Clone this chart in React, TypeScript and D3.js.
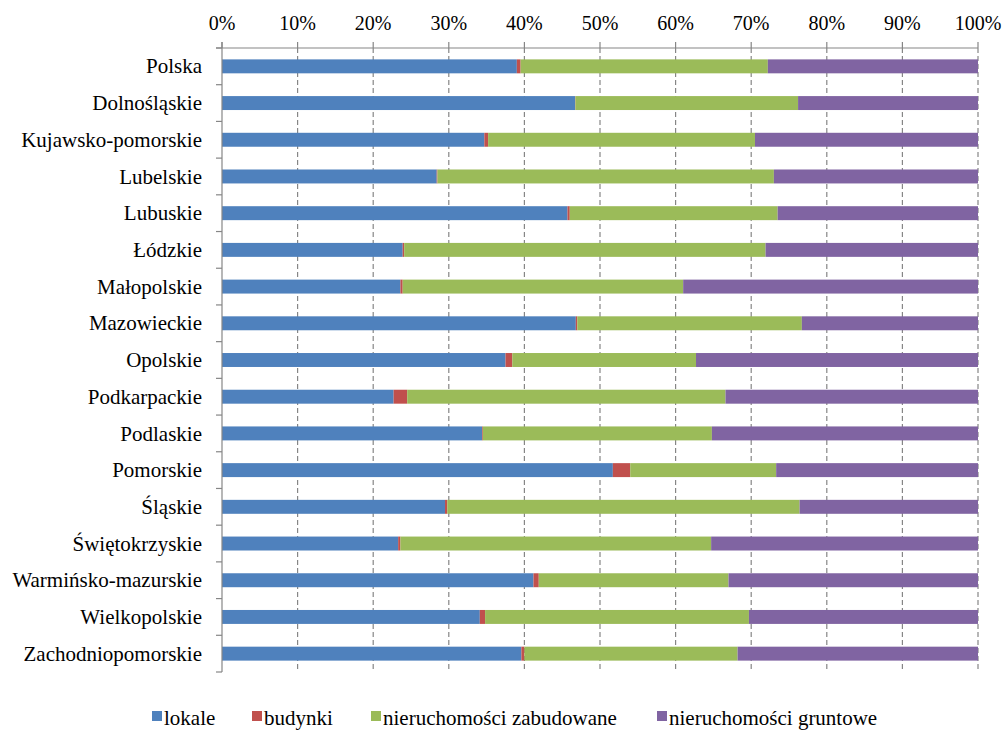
import React from 'react';
import * as d3 from 'd3';

// voivodeships, top to bottom
const regions = [
  'Polska', 'Dolnośląskie', 'Kujawsko-pomorskie', 'Lubelskie', 'Lubuskie', 'Łódzkie',
  'Małopolskie', 'Mazowieckie', 'Opolskie', 'Podkarpackie', 'Podlaskie', 'Pomorskie',
  'Śląskie', 'Świętokrzyskie', 'Warmińsko-mazurskie', 'Wielkopolskie', 'Zachodniopomorskie',
];

// shares in % per region
const lokale = [39.0, 46.7, 34.7, 28.4, 45.7, 23.9, 23.6, 46.8, 37.5, 22.7, 34.4, 51.7, 29.5, 23.3, 41.2, 34.1, 39.6];
const budynki = [0.5, 0.05, 0.5, 0.1, 0.3, 0.2, 0.3, 0.2, 0.9, 1.8, 0.1, 2.3, 0.3, 0.3, 0.7, 0.7, 0.4];
const zabudowane = [32.7, 29.45, 35.3, 44.5, 27.5, 47.8, 37.1, 29.7, 24.3, 42.1, 30.3, 19.3, 46.6, 41.1, 25.1, 34.9, 28.2];
const gruntowe = [27.8, 23.8, 29.5, 27.0, 26.5, 28.1, 39.0, 23.3, 37.3, 33.4, 35.2, 26.7, 23.6, 35.3, 33.0, 30.3, 31.8];

const seriesNames = ['lokale', 'budynki', 'nieruchomości zabudowane', 'nieruchomości gruntowe'];
const seriesColors = ['#4F81BD', '#C0504D', '#9BBB59', '#8064A2'];
const tickValues = [0, 0.1, 0.2, 0.3, 0.4, 0.5, 0.6, 0.7, 0.8, 0.9, 1];

const W = 1003, H = 731;
const left = 222, right = 978, top = 48, bottom = 672;
const font = 'Liberation Serif, DejaVu Serif, serif';
const gridColor = '#868686';

export default function App() {
  const rows = regions.map((r, i) => {
    const vals = [lokale[i], budynki[i], zabudowane[i], gruntowe[i]];
    const total = d3.sum(vals);
    const o: any = { region: r };
    seriesNames.forEach((k, j) => (o[k] = vals[j] / total));
    return o;
  });
  const stacked = d3.stack().keys(seriesNames)(rows);

  const x = d3.scaleLinear().domain([0, 1]).range([left, right]);
  const y = d3.scaleBand().domain(regions).range([top, bottom]).paddingInner(0.62).paddingOuter(0.31);
  const step = y.step();
  const fmt = d3.format('.0%');

  const legendX = [152, 252, 371, 657];

  return (
    <div style={{ position: 'absolute', left: 0, top: 0 }}>
      <svg width={W} height={H} style={{ display: 'block' }}>
        <rect width={W} height={H} fill="#fff" />
        {/* grid */}
        {tickValues.slice(1).map((t) => (
          <line key={'g' + t} x1={x(t)} x2={x(t)} y1={top} y2={bottom}
            stroke={gridColor} strokeWidth={1.2} strokeDasharray="5,3" />
        ))}
        {/* bars */}
        {stacked.map((s, j) => (
          <g key={s.key} fill={seriesColors[j]}>
            {s.map((d: any) => (
              <rect key={d.data.region} x={x(d[0])} width={Math.max(0, x(d[1]) - x(d[0]))}
                y={y(d.data.region)} height={y.bandwidth()} />
            ))}
          </g>
        ))}
        {/* top axis */}
        <line x1={left - 6} x2={right} y1={top} y2={top} stroke={gridColor} strokeWidth={1.2} />
        {tickValues.map((t) => (
          <g key={'t' + t}>
            <line x1={x(t)} x2={x(t)} y1={top - 6} y2={top} stroke={gridColor} strokeWidth={1.2} />
            <text x={x(t)} y={30} textAnchor="middle" fontSize={20} fontFamily={font} fill="#000">{fmt(t)}</text>
          </g>
        ))}
        {/* left axis */}
        <line x1={left} x2={left} y1={top - 6} y2={bottom} stroke={gridColor} strokeWidth={1.2} />
        {d3.range(regions.length + 1).map((i) => (
          <line key={'lt' + i} x1={left - 6} x2={left} y1={top + i * step} y2={top + i * step}
            stroke={gridColor} strokeWidth={1.2} />
        ))}
        {regions.map((r) => (
          <text key={'l' + r} x={202} y={(y(r) as number) + y.bandwidth() / 2} dy="0.34em"
            textAnchor="end" fontSize={21} fontFamily={font} fill="#000">{r}</text>
        ))}
        {/* legend */}
        {seriesNames.map((n, j) => (
          <g key={'lg' + n} transform={`translate(${legendX[j]},0)`}>
            <rect x={0} y={711} width={10} height={10} fill={seriesColors[j]} />
            <text x={12} y={725} fontSize={21} fontFamily={font} fill="#000">{n}</text>
          </g>
        ))}
      </svg>
    </div>
  );
}
